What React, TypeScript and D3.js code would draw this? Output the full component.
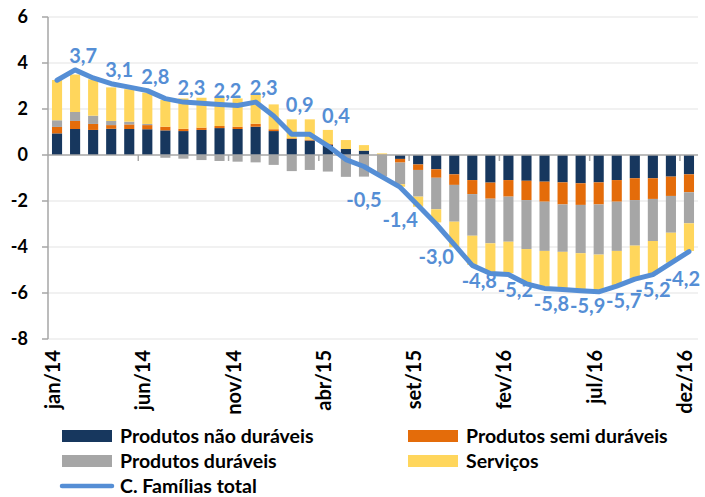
import React, { useEffect, useRef } from "react";
import * as d3 from "d3";

const months = [
  "jan/14", "fev/14", "mar/14", "abr/14", "mai/14", "jun/14", "jul/14", "ago/14", "set/14", "out/14", "nov/14", "dez/14",
  "jan/15", "fev/15", "mar/15", "abr/15", "mai/15", "jun/15", "jul/15", "ago/15", "set/15", "out/15", "nov/15", "dez/15",
  "jan/16", "fev/16", "mar/16", "abr/16", "mai/16", "jun/16", "jul/16", "ago/16", "set/16", "out/16", "nov/16", "dez/16",
];

const naoDuraveis = [
  0.94, 1.13, 1.09, 1.14, 1.13, 1.12, 1.07, 1.04, 1.09, 1.17, 1.13, 1.23,
  1.04, 0.7, 0.63, 0.45, 0.26, 0.19, 0.0, -0.17, -0.41, -0.62, -0.84, -1.09,
  -1.2, -1.09, -1.12, -1.16, -1.19, -1.23, -1.19, -1.09, -1.01, -1.01, -0.94, -0.84,
];
const semiDuraveis = [
  0.28, 0.35, 0.26, 0.16, 0.2, 0.18, 0.16, 0.1, 0.1, 0.09, 0.1, 0.13,
  0.08, 0.03, 0.04, 0.03, 0.0, 0.0, 0.02, -0.16, -0.24, -0.37, -0.46, -0.61,
  -0.7, -0.72, -0.84, -0.87, -0.96, -0.94, -0.96, -0.94, -0.95, -0.9, -0.84, -0.78,
];
const duraveis = [
  0.29, 0.39, 0.36, 0.18, 0.12, 0.05, -0.12, -0.16, -0.22, -0.26, -0.29, -0.32,
  -0.43, -0.7, -0.65, -0.72, -0.95, -0.94, -0.94, -0.94, -1.16, -1.37, -1.6, -1.81,
  -1.94, -1.96, -2.13, -2.14, -2.06, -2.1, -2.18, -2.14, -1.98, -1.83, -1.6, -1.35,
];
const servicos = [
  1.75, 1.63, 1.58, 1.46, 1.41, 1.36, 1.16, 1.32, 1.3, 1.25, 1.23, 1.28,
  1.08, 0.82, 0.88, 0.61, 0.39, 0.24, 0.05, -0.11, -0.44, -0.57, -1.11, -1.27,
  -1.28, -1.37, -1.49, -1.55, -1.6, -1.59, -1.62, -1.48, -1.46, -1.45, -1.3, -1.2,
];
const familiasTotal = [
  3.25, 3.7, 3.35, 3.1, 2.95, 2.8, 2.45, 2.3, 2.25, 2.2, 2.15, 2.3,
  1.7, 0.9, 0.9, 0.4, -0.2, -0.5, -0.95, -1.4, -2.2, -3.0, -3.9, -4.8,
  -5.15, -5.2, -5.6, -5.8, -5.85, -5.9, -5.95, -5.7, -5.4, -5.2, -4.7, -4.2,
];
const yTicks = [6, 4, 2, 0, -2, -4, -6, -8];

const series = [
  { key: "nd", label: "Produtos não duráveis", color: "#17375e", values: naoDuraveis },
  { key: "sd", label: "Produtos semi duráveis", color: "#e46c0a", values: semiDuraveis },
  { key: "d", label: "Produtos duráveis", color: "#a6a6a6", values: duraveis },
  { key: "s", label: "Serviços", color: "#ffd65c", values: servicos },
];
const lineLabel = "C. Famílias total";
const lineColor = "#558ed5";

const W = 705;
const H = 497;
const FONT = "Lato, 'Open Sans', sans-serif";

export default function App() {
  const svgRef = useRef<SVGSVGElement | null>(null);

  useEffect(() => {
    const svg = d3.select(svgRef.current);
    svg.selectAll("*").remove();

    const x = d3.scaleBand<string>().domain(months).range([48, 698]).paddingInner(0.44).paddingOuter(0.22);
    const y = d3.scaleLinear().domain([-8, 6]).range([339, 17]);

    // gridlines
    svg.append("g")
      .selectAll("line")
      .data(yTicks.filter((t) => t !== 0))
      .join("line")
      .attr("x1", 48).attr("x2", 698)
      .attr("y1", (d) => y(d)).attr("y2", (d) => y(d))
      .attr("stroke", "#e4e4e4").attr("stroke-width", 1.2);

    // stacked bars (positives up, negatives down)
    const rows = months.map((m, i) => {
      const r: Record<string, any> = { month: m };
      series.forEach((s) => (r[s.key] = s.values[i]));
      return r;
    });
    const stacked = d3.stack<any>().keys(series.map((s) => s.key)).offset(d3.stackOffsetDiverging)(rows);

    svg.append("g")
      .selectAll("g")
      .data(stacked)
      .join("g")
      .attr("fill", (d, i) => series[i].color)
      .selectAll("rect")
      .data((d) => d)
      .join("rect")
      .attr("x", (d) => x(d.data.month)!)
      .attr("width", x.bandwidth())
      .attr("y", (d) => y(Math.max(d[0], d[1])))
      .attr("height", (d) => Math.abs(y(d[0]) - y(d[1])));

    // axes
    const axisColor = "#a6a6a6";
    svg.append("line").attr("x1", 48).attr("x2", 698).attr("y1", y(0)).attr("y2", y(0))
      .attr("stroke", axisColor).attr("stroke-width", 1.5);
    svg.append("line").attr("x1", 48).attr("x2", 48).attr("y1", y(6)).attr("y2", y(-8))
      .attr("stroke", axisColor).attr("stroke-width", 1.5);

    const yAxis = svg.append("g");
    yAxis.selectAll("line")
      .data(yTicks)
      .join("line")
      .attr("x1", 42).attr("x2", 48)
      .attr("y1", (d) => y(d)).attr("y2", (d) => y(d))
      .attr("stroke", axisColor).attr("stroke-width", 1.5);
    yAxis.selectAll("text")
      .data(yTicks)
      .join("text")
      .attr("x", 28)
      .attr("y", (d) => y(d))
      .attr("dy", "0.36em")
      .attr("text-anchor", "end")
      .attr("font-family", FONT)
      .attr("font-weight", 700)
      .attr("font-size", 18)
      .attr("fill", "#000")
      .text((d) => String(d));

    const step = x.step();
    const tickIdx = months.map((_, i) => i).filter((i) => i % 5 === 0 && i > 0);
    svg.append("g")
      .selectAll("line")
      .data(tickIdx)
      .join("line")
      .attr("x1", (i) => 48 + i * step).attr("x2", (i) => 48 + i * step)
      .attr("y1", y(0)).attr("y2", y(0) + 6)
      .attr("stroke", axisColor).attr("stroke-width", 1.5);

    svg.append("g")
      .selectAll("text")
      .data(months.filter((_, i) => i % 5 === 0))
      .join("text")
      .attr("transform", (m) => `translate(${x(m)! + x.bandwidth() / 2 + 3},350) rotate(-90)`)
      .attr("text-anchor", "end")
      .attr("font-family", FONT)
      .attr("font-weight", 700)
      .attr("font-size", 20)
      .attr("fill", "#000")
      .text((m) => m);

    // total line
    const cx = (i: number) => x(months[i])! + x.bandwidth() / 2;
    const line = d3.line<number>().x((_, i) => cx(i)).y((d) => y(d));
    svg.append("path")
      .datum(familiasTotal)
      .attr("d", line)
      .attr("fill", "none")
      .attr("stroke", lineColor)
      .attr("stroke-width", 5)
      .attr("stroke-linejoin", "round")
      .attr("stroke-linecap", "round");

    const fmt = (v: number) => v.toFixed(1).replace(".", ",");
    const labelled = familiasTotal.map((v, i) => ({ v, i })).filter((d) => d.i % 2 === 1);
    const last = labelled[labelled.length - 1].i;
    const labels = svg.append("g")
      .selectAll("text")
      .data(labelled)
      .join("text")
      .attr("x", (d) => cx(d.i) + (d.v > 0 ? 8 : d.v > -4.5 ? 0 : 7))
      .attr("y", (d) => y(d.v) + (d.v > 0 ? (d.v < 1 ? -30 : -14) : d.i === last ? 27 : d.v > -4.5 ? 33 : 15))
      .attr("dy", "0.36em")
      .attr("text-anchor", "middle")
      .attr("font-family", FONT)
      .attr("font-weight", 700)
      .attr("font-size", 20)
      .attr("fill", lineColor)
      .text((d) => fmt(d.v));

    // keep the last label inside the plot, then nudge its neighbour left a little
    const nodes = labels.nodes() as SVGTextElement[];
    const lastEl = nodes[nodes.length - 1];
    const lb = lastEl.getBBox();
    const over = lb.x + lb.width - 700;
    if (over > 0) lastEl.setAttribute("x", String(+lastEl.getAttribute("x")! - over));
    const prevEl = nodes[nodes.length - 2];
    const pb = prevEl.getBBox();
    const nb = lastEl.getBBox();
    const clash = pb.x + pb.width - nb.x - 6;
    if (clash > 0) prevEl.setAttribute("x", String(+prevEl.getAttribute("x")! - clash));

    // legend
    const legend = svg.append("g").attr("font-family", FONT).attr("font-weight", 700).attr("font-size", 19.5);
    const items = [...series.map((s) => ({ label: s.label, color: s.color, line: false })), { label: lineLabel, color: lineColor, line: true }];
    items.forEach((it, i) => {
      const col = i < 4 ? i % 2 : 0;
      const row = Math.floor(i / 2);
      const lx = col === 0 ? 62 : 408;
      const ly = 436 + row * 25;
      const g = legend.append("g");
      if (it.line) {
        g.append("line").attr("x1", lx).attr("x2", lx + 50).attr("y1", ly).attr("y2", ly)
          .attr("stroke", it.color).attr("stroke-width", 4.5).attr("stroke-linecap", "round");
      } else {
        g.append("rect").attr("x", lx).attr("y", ly - 6).attr("width", 50).attr("height", 12).attr("fill", it.color);
      }
      g.append("text").attr("x", lx + 58).attr("y", ly).attr("dy", "0.35em").attr("fill", "#000").text(it.label);
    });
  }, []);

  return (
    <svg
      ref={svgRef}
      width={W}
      height={H}
      style={{ position: "absolute", left: 0, top: 0, background: "#fff" }}
    />
  );
}
